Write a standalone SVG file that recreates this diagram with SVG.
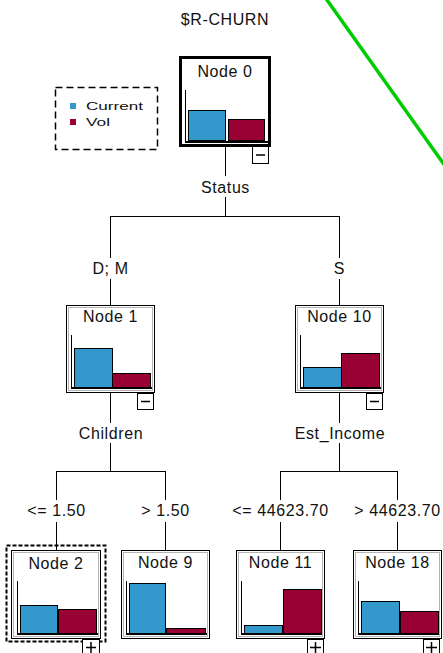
<svg xmlns="http://www.w3.org/2000/svg" width="443" height="653" viewBox="0 0 443 653">
  <style>
    text { font-family: "Liberation Sans", Arial, sans-serif; fill: #111; }
    .lbl { font-size: 16px; letter-spacing: 0.6px; text-anchor: middle; }
    .leg { font-size: 11px; }
    .box { fill: #fff; stroke: #000; stroke-width: 1; }
    .box0 { fill: #fff; stroke: #000; stroke-width: 3; }
    .inset { fill: none; stroke: #b4b4b4; stroke-width: 1; }
    .axis { stroke: #000; stroke-width: 1; fill: none; }
    .base { stroke: #000; stroke-width: 2; fill: none; }
    .cur { fill: #3399cc; stroke: #000; stroke-width: 1; }
    .vol { fill: #990033; stroke: #000; stroke-width: 1; }
    .btn { fill: #fff; stroke: #000; stroke-width: 1; }
    .sym { stroke: #000; stroke-width: 1.5; fill: none; }
    .wire { stroke: #000; stroke-width: 1; fill: none; }
  </style>

  <rect width="443" height="653" fill="#fff"/>

  <!-- title -->
  <text class="lbl" x="225" y="25">$R-CHURN</text>

  <!-- legend -->
  <g id="legend">
    <rect x="55.5" y="87.5" width="102" height="62" fill="none" stroke="#000" stroke-width="1.5" stroke-dasharray="7 4"/>
    <rect x="70" y="103" width="6" height="6" fill="#3399cc"/>
    <text class="leg" x="86" y="110" textLength="57" lengthAdjust="spacingAndGlyphs">Current</text>
    <rect x="70" y="119" width="6" height="6" fill="#990033"/>
    <text class="leg" x="86" y="126" textLength="24" lengthAdjust="spacingAndGlyphs">Vol</text>
  </g>

  <!-- connectors -->
  <g id="connectors">
    <path class="wire" d="M225.5 147 V176 M225.5 197 V216.5 M110.5 216.5 H339.5 M110.5 216 V258 M339.5 216 V258 M110.5 279 V305 M339.5 279 V305"/>
    <path class="wire" d="M110.5 393 V423 M110.5 443 V471.5 M56.5 471.5 H165.5 M56.5 471 V500 M165.5 471 V500 M56.5 522 V550 M165.5 522 V550"/>
    <path class="wire" d="M339.5 393 V423 M339.5 443 V471.5 M280.5 471.5 H397.5 M280.5 471 V500 M397.5 471 V500 M280.5 522 V550 M397.5 522 V550"/>
    <text class="lbl" x="225.5" y="193">Status</text>
    <text class="lbl" x="110.5" y="274">D; M</text>
    <text class="lbl" x="339.5" y="274">S</text>
    <text class="lbl" x="111" y="439">Children</text>
    <text class="lbl" x="340" y="439">Est_Income</text>
    <text class="lbl" x="56.5" y="516">&lt;= 1.50</text>
    <text class="lbl" x="165.5" y="516">&gt; 1.50</text>
    <text class="lbl" x="280.5" y="516">&lt;= 44623.70</text>
    <text class="lbl" x="397.5" y="516">&gt; 44623.70</text>
  </g>

  <!-- Node 0 (root, selected frame) -->
  <g id="node0">
    <rect class="box0" x="180.5" y="57.5" width="89" height="88"/>
    <text class="lbl" x="225" y="77">Node 0</text>
    <line class="axis" x1="185.5" y1="90" x2="185.5" y2="142"/>
    <rect class="cur" x="188.5" y="110.5" width="37" height="30"/>
    <rect class="vol" x="228.5" y="119.5" width="36" height="21"/>
    <line class="base" x1="185" y1="142" x2="268" y2="142"/>
    <rect class="btn" x="252.5" y="146.5" width="16" height="17"/>
    <line class="sym" x1="256" y1="155" x2="265" y2="155"/>
  </g>

  <!-- Node 1 -->
  <g id="node1">
    <rect class="box" x="66.5" y="305.5" width="88" height="87"/>
    <rect class="inset" x="68.5" y="307.5" width="84" height="83"/>
    <text class="lbl" x="110.5" y="322">Node 1</text>
    <line class="axis" x1="71.5" y1="335" x2="71.5" y2="389"/>
    <rect class="cur" x="74.5" y="348.5" width="38" height="39"/>
    <rect class="vol" x="112.5" y="373.5" width="38" height="14"/>
    <line class="base" x1="71" y1="388" x2="152" y2="388"/>
    <rect class="btn" x="137.5" y="393.5" width="16" height="16"/>
    <line class="sym" x1="141" y1="401.5" x2="150" y2="401.5"/>
  </g>

  <!-- Node 10 -->
  <g id="node10">
    <rect class="box" x="295.5" y="305.5" width="88" height="87"/>
    <rect class="inset" x="297.5" y="307.5" width="84" height="83"/>
    <text class="lbl" x="339.5" y="322">Node 10</text>
    <line class="axis" x1="300.5" y1="335" x2="300.5" y2="389"/>
    <rect class="cur" x="303.5" y="367.5" width="38" height="20"/>
    <rect class="vol" x="341.5" y="353.5" width="38" height="34"/>
    <line class="base" x1="300" y1="388" x2="381" y2="388"/>
    <rect class="btn" x="366.5" y="393.5" width="16" height="16"/>
    <line class="sym" x1="370" y1="401.5" x2="379" y2="401.5"/>
  </g>

  <!-- Node 2 (focused) -->
  <g id="node2">
    <rect x="6.5" y="545.5" width="99" height="96" fill="none" stroke="#000" stroke-width="2" stroke-dasharray="4 2"/>
    <rect class="box" x="11.5" y="550.5" width="89" height="88"/>
    <rect class="inset" x="13.5" y="552.5" width="85" height="84"/>
    <text class="lbl" x="56" y="569">Node 2</text>
    <line class="axis" x1="17.5" y1="581" x2="17.5" y2="635"/>
    <rect class="cur" x="20.5" y="605.5" width="37" height="28"/>
    <rect class="vol" x="58.5" y="609.5" width="38" height="24"/>
    <line class="base" x1="17" y1="634" x2="98" y2="634"/>
    <rect class="btn" x="82.5" y="639.5" width="17" height="16"/>
    <path class="sym" d="M86 647.5 H96 M91 642 V653"/>
  </g>

  <!-- Node 9 (leaf) -->
  <g id="node9">
    <rect class="box" x="121.5" y="550.5" width="88" height="88"/>
    <rect class="inset" x="123.5" y="552.5" width="84" height="84"/>
    <text class="lbl" x="165.5" y="568">Node 9</text>
    <line class="axis" x1="126.5" y1="581" x2="126.5" y2="635"/>
    <rect class="cur" x="129.5" y="583.5" width="36" height="50"/>
    <rect class="vol" x="166.5" y="628.5" width="39" height="5"/>
    <line class="base" x1="126" y1="634" x2="207" y2="634"/>
  </g>

  <!-- Node 11 -->
  <g id="node11">
    <rect class="box" x="236.5" y="550.5" width="88" height="88"/>
    <rect class="inset" x="238.5" y="552.5" width="84" height="84"/>
    <text class="lbl" x="280.5" y="568">Node 11</text>
    <line class="axis" x1="241.5" y1="581" x2="241.5" y2="635"/>
    <rect class="cur" x="244.5" y="625.5" width="38" height="8"/>
    <rect class="vol" x="283.5" y="589.5" width="38" height="44"/>
    <line class="base" x1="241" y1="634" x2="322" y2="634"/>
    <rect class="btn" x="307.5" y="639.5" width="16" height="16"/>
    <path class="sym" d="M310 647.5 H321 M315.5 642 V653"/>
  </g>

  <!-- Node 18 -->
  <g id="node18">
    <rect class="box" x="353.5" y="550.5" width="88" height="88"/>
    <rect class="inset" x="355.5" y="552.5" width="84" height="84"/>
    <text class="lbl" x="397.5" y="568">Node 18</text>
    <line class="axis" x1="358.5" y1="581" x2="358.5" y2="635"/>
    <rect class="cur" x="361.5" y="601.5" width="38" height="32"/>
    <rect class="vol" x="400.5" y="611.5" width="38" height="22"/>
    <line class="base" x1="358" y1="634" x2="439" y2="634"/>
    <rect class="btn" x="423.5" y="639.5" width="16" height="16"/>
    <path class="sym" d="M426 647.5 H437 M431.5 642 V653"/>
  </g>

  <!-- green stroke across the upper right -->
  <line x1="322" y1="-7" x2="448" y2="170" stroke="#00cc00" stroke-width="3.5"/>
</svg>
